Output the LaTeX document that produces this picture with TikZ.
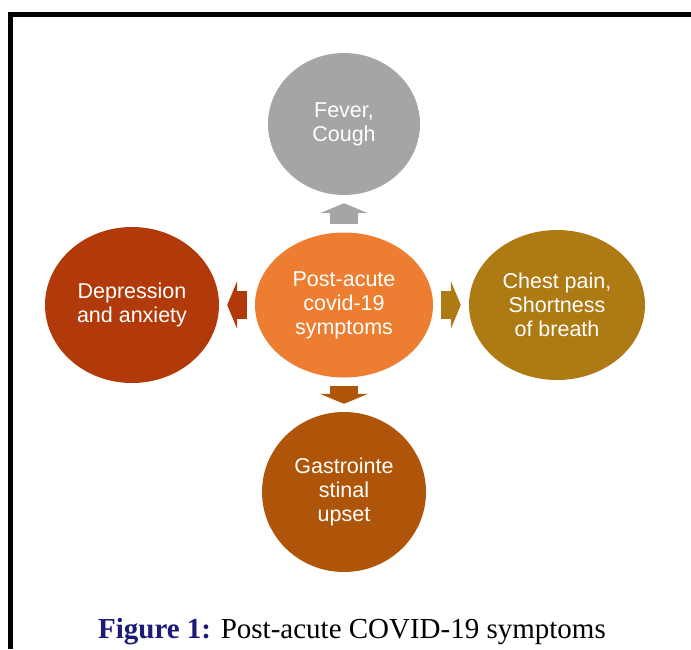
\documentclass[tikz,border=0pt]{standalone}
\usepackage{fontspec}
\setmainfont{Liberation Serif}
\newfontfamily\bubblefont{Liberation Sans}
\usetikzlibrary{arrows.meta,shapes,calc,positioning}
\definecolor{feverc}{HTML}{A5A5A5}
\definecolor{postc}{HTML}{ED7D31}
\definecolor{depc}{HTML}{B23A0A}
\definecolor{chestc}{HTML}{AD7A14}
\definecolor{gastroc}{HTML}{AF550A}
\definecolor{capblue}{HTML}{1A1A78}
\tikzset{
  >={Triangle[width=48pt,length=10pt,line width=0pt]}
}

\begin{document}
\begin{tikzpicture}[x=1pt,y=-1pt,
    bubble/.style={ellipse,inner sep=0pt,text=white,align=center,font=\bubblefont\fontsize{21.5}{24}\selectfont},
    link/.style={->,line width=28pt,shorten <=8pt,shorten >=8pt}]
        \useasboundingbox (0,0) rectangle (691,649);
        \draw[line width=5pt] (10.5,649) -- (10.5,14) -- (691,14);

        \node (post) at (344, 305) [bubble,fill=postc,minimum width=178pt,minimum height=145pt] {Post-acute\\covid-19\\symptoms};
        \node (fever) at (344, 124) [bubble,fill=feverc,minimum width=152pt,minimum height=142pt] {Fever,\\Cough};
        \node (dep) at (132, 305) [bubble,fill=depc,minimum width=174pt,minimum height=156pt] {Depression\\and anxiety};
        \node (chest) at (557, 305) [bubble,fill=chestc,minimum width=176pt,minimum height=150pt] {Chest pain,\\Shortness\\of breath};
        \node (gastro) at (344, 492) [bubble,fill=gastroc,minimum width=164pt,minimum height=160pt] {Gastrointe\\stinal\\upset};

        \draw[link,feverc] (post) -- (fever);
        \draw[link,depc] (post) -- (dep);
        \draw[link,chestc] (post) -- (chest);
        \draw[link,gastroc] (post) -- (gastro);

        \node (caption) at (352, 632) [font=\fontsize{29}{32}\selectfont] {\textcolor{capblue}{\bfseries Figure 1:} Post-acute COVID-19 symptoms};
    \end{tikzpicture}
\end{document}
